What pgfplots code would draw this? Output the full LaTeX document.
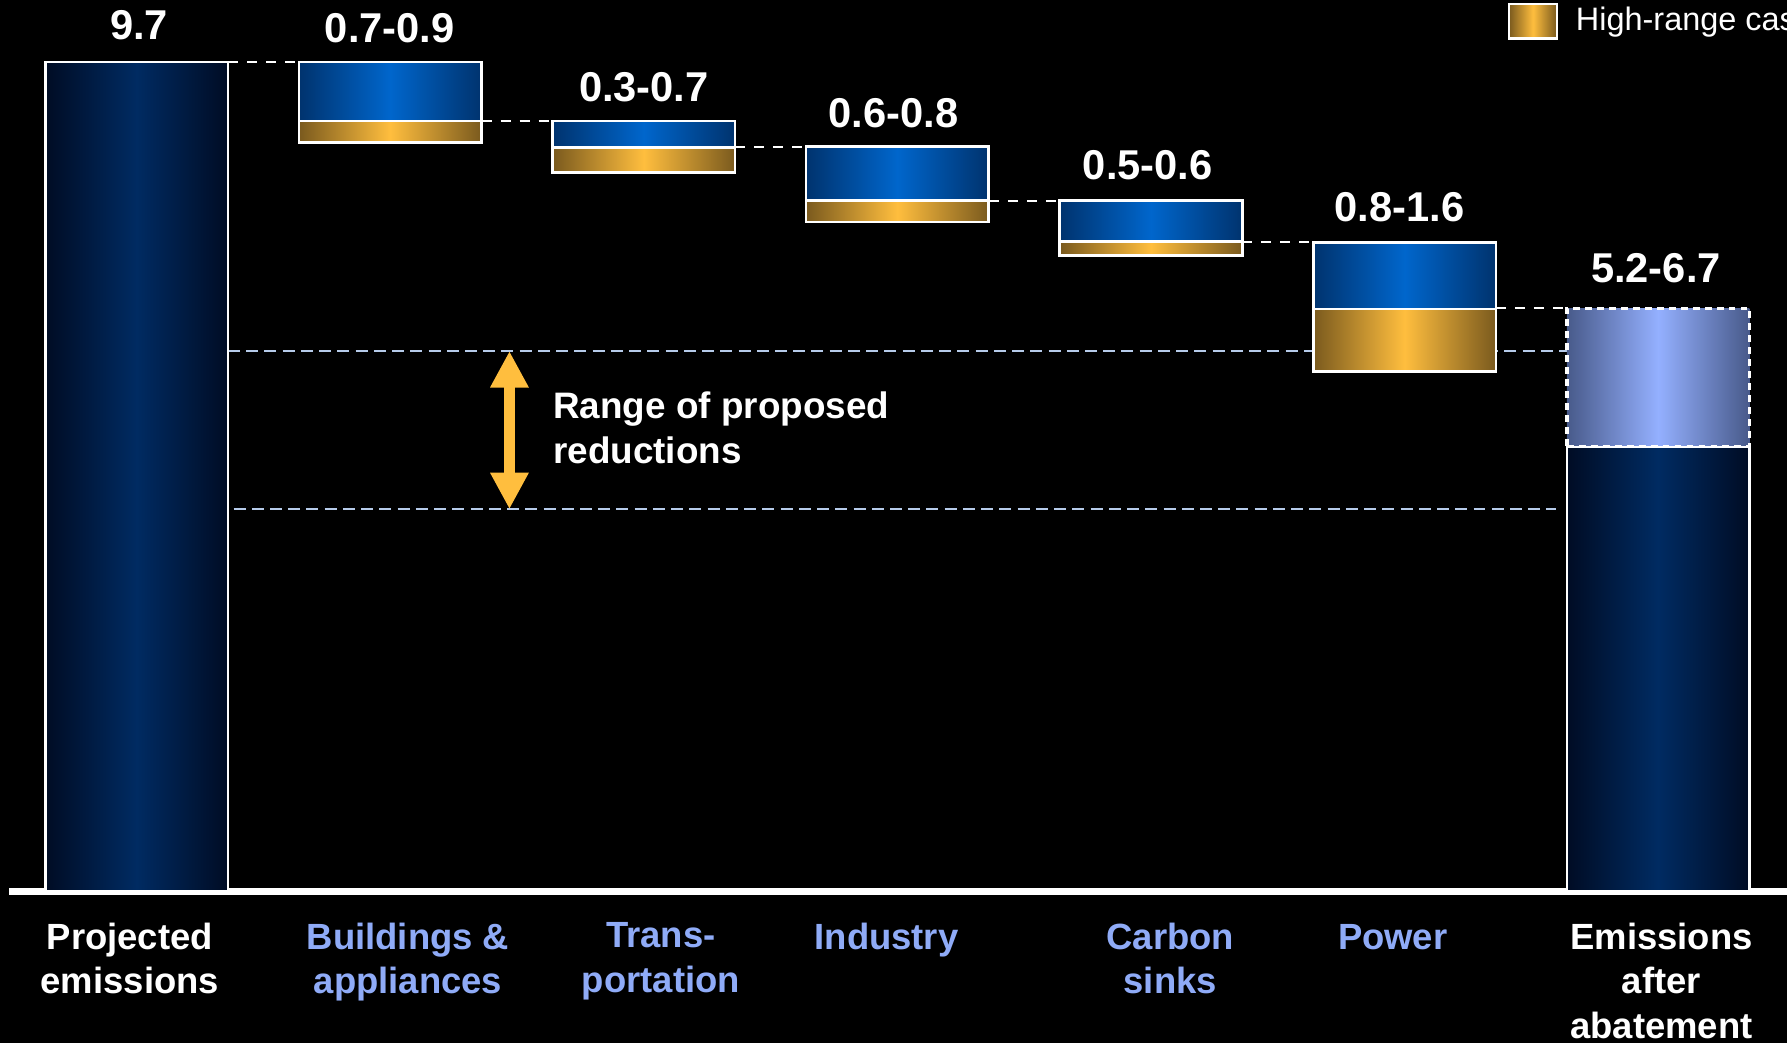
\documentclass[border=0pt]{standalone}
\usepackage{pgfplots}
\usepackage{pgfplotstable}
\pgfplotsset{compat=1.18}
\usepackage{fontspec}
\setmainfont{Liberation Sans}
\usetikzlibrary{arrows.meta}
\definecolor{navyE}{HTML}{000C24}
\definecolor{navyM}{HTML}{002B62}
\definecolor{blueE}{HTML}{00336E}
\definecolor{blueM}{HTML}{0066CC}
\definecolor{goldE}{HTML}{7A5A1E}
\definecolor{goldM}{HTML}{FFBE3E}
\definecolor{liteE}{HTML}{485A8A}
\definecolor{liteM}{HTML}{94B0FF}
\definecolor{catblue}{HTML}{8FABF7}
\definecolor{guide}{HTML}{B6CBEA}
\definecolor{arrowgold}{HTML}{FFBE3E}

% one column per drawn segment (n = navy total, g = high-range part, b = low-range part, l = range of result)
\pgfplotstableread{
x base n0   g1   b1   g2   b2   g3   b3   g4   b4   g5   b5   n6   l6
0 0    9.70 0    0    0    0    0    0    0    0    0    0    0    0
1 8.76 0    0.25 0.69 0    0    0    0    0    0    0    0    0    0
2 8.41 0    0    0    0.29 0.31 0    0    0    0    0    0    0    0
3 7.83 0    0    0    0    0    0.25 0.63 0    0    0    0    0    0
4 7.44 0    0    0    0    0    0    0    0.16 0.48 0    0    0    0
5 6.08 0    0    0    0    0    0    0    0    0    0.73 0.78 0    0
6 0    0    0    0    0    0    0    0    0    0    0    0    5.20 1.62
}\wf

\newcommand\numfont{\fontsize{10.4}{12}\selectfont\bfseries}
\newcommand\catfont{\fontsize{9.1}{11.1}\selectfont\bfseries}
\newcommand\seg[2]{\addplot[draw=white, line width=0.22mm, left color=#1E, right color=#1E, middle color=#1M, forget plot] table[x=x,y=#2]{\wf};}

\begin{document}
\begin{tikzpicture}
\begin{axis}[
  name=ax, scale only axis, width=156.8mm, height=91.5mm,
  xmin=-0.539, xmax=6.508, ymin=-1.773, ymax=10.427,
  enlargelimits=false, clip=false,
  axis background/.style={fill=black},
  axis line style={draw=none},
  ytick=\empty, major tick length=0pt,
  xtick={-0.027,1.070,2.067,2.957,4.076,4.953,6.013},
  xticklabels={{Projected\\emissions},
    {\color{catblue}Buildings \&\\\color{catblue}appliances},
    {\color{catblue}Trans-\\\color{catblue}portation},
    {\color{catblue}Industry},
    {\color{catblue}Carbon\\\color{catblue}sinks},
    {\color{catblue}Power},
    {Emissions\\after\\abatement}},
  xticklabel style={anchor=north, inner sep=0pt, yshift=10.6mm, align=center, font=\catfont, text=white,
    execute at begin node=\vphantom{Ad}},
  ybar stacked, stacked ignores zero, bar width=0.72,
  legend style={at={(axis cs:5.407,10.177)}, anchor=west, draw=none, fill=none,
    inner sep=0pt, outer sep=0pt, row sep=0pt, column sep=0pt,
    font=\fontsize{8.1}{9.7}\selectfont, text=white, nodes={inner sep=0pt}},
  legend cell align=left,
  legend image code/.code={\draw[#1, line width=0.22mm] (0mm,-1.52mm) rectangle (4.2mm,1.53mm); \path (5.8mm,0mm);},
]
\addplot[draw=none, fill=none, forget plot] table[x=x,y=base]{\wf};
\seg{navy}{n0}
\seg{gold}{g1}\seg{blue}{b1}
\seg{gold}{g2}\seg{blue}{b2}
\seg{gold}{g3}\seg{blue}{b3}
\seg{gold}{g4}\seg{blue}{b4}
\seg{gold}{g5}\seg{blue}{b5}
\seg{navy}{n6}
\addplot[draw=white, line width=0.28mm, dash pattern=on 0.6mm off 0.45mm, left color=liteE, right color=liteE, middle color=liteM, forget plot] table[x=x,y=l6]{\wf};
\addlegendimage{draw=white, left color=goldE, right color=goldE, middle color=goldM}
\addlegendentry{High-range case}

% connectors
\draw[white, line width=0.18mm, dash pattern=on 0.88mm off 0.79mm] (axis cs:0.36,9.70) -- (axis cs:0.64,9.70);
\draw[white, line width=0.18mm, dash pattern=on 0.88mm off 0.79mm] (axis cs:1.36,9.01) -- (axis cs:1.64,9.01);
\draw[white, line width=0.18mm, dash pattern=on 0.88mm off 0.79mm] (axis cs:2.36,8.71) -- (axis cs:2.64,8.71);
\draw[white, line width=0.18mm, dash pattern=on 0.88mm off 0.79mm] (axis cs:3.36,8.08) -- (axis cs:3.64,8.08);
\draw[white, line width=0.18mm, dash pattern=on 0.88mm off 0.79mm] (axis cs:4.36,7.60) -- (axis cs:4.64,7.60);
\draw[white, line width=0.18mm, dash pattern=on 0.88mm off 0.79mm] (axis cs:5.36,6.82) -- (axis cs:5.64,6.82);
% range guides
\draw[guide, line width=0.2mm, dash pattern=on 1.05mm off 0.55mm] (axis cs:0.36,6.32) -- (axis cs:5.64,6.32);
\draw[guide, line width=0.2mm, dash pattern=on 1.05mm off 0.55mm] (axis cs:0.382,4.47) -- (axis cs:5.596,4.47);
\draw[arrowgold, line width=0.95mm, {Triangle[width=3.16mm,length=3.2mm]}-{Triangle[width=3.16mm,length=3.2mm]}] (axis cs:1.470,6.32) -- (axis cs:1.470,4.47);
\node[anchor=west, align=left, text=white, font=\fontsize{9.2}{11.1}\selectfont\bfseries, inner sep=0pt] at (axis cs:1.640,5.42) {Range of proposed\\reductions};
% baseline
\draw[white, line width=0.6mm] (axis cs:-0.503,0) -- (axis cs:6.508,0);
% value labels
\node[anchor=base, text=white, font=\numfont, inner sep=0pt] at (axis cs:0.009,9.967) {9.7};
\node[anchor=base, text=white, font=\numfont, inner sep=0pt] at (axis cs:0.998,9.928) {0.7-0.9};
\node[anchor=base, text=white, font=\numfont, inner sep=0pt] at (axis cs:2.0,9.237) {0.3-0.7};
\node[anchor=base, text=white, font=\numfont, inner sep=0pt] at (axis cs:2.984,8.93) {0.6-0.8};
\node[anchor=base, text=white, font=\numfont, inner sep=0pt] at (axis cs:3.987,8.33) {0.5-0.6};
\node[anchor=base, text=white, font=\numfont, inner sep=0pt] at (axis cs:4.98,7.84) {0.8-1.6};
\node[anchor=base, text=white, font=\numfont, inner sep=0pt] at (axis cs:5.991,7.12) {5.2-6.7};
\end{axis}
\pgfresetboundingbox
\path[use as bounding box] (ax.south west) rectangle (ax.north east);
\end{tikzpicture}
\end{document}
